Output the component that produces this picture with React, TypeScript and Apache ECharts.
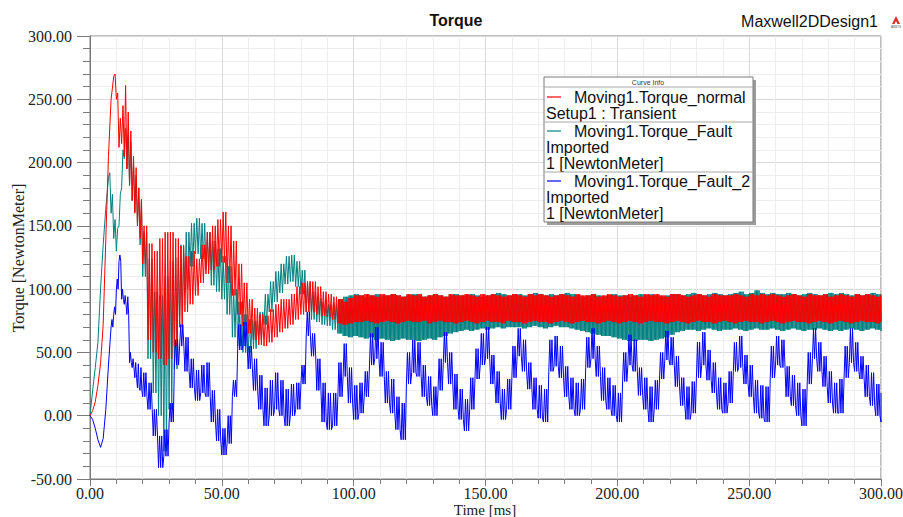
import React, { useEffect, useRef } from "react";
import * as echarts from "echarts";

// Sampling instants (ms): 1 ms steps up to 20 ms, then 2 ms steps to 300 ms
const TIME_MS: number[] = [];
for (let t = 0; t <= 20; t++) TIME_MS.push(t);
for (let t = 22; t <= 300; t += 2) TIME_MS.push(t);

const X_TICKS = [0, 50, 100, 150, 200, 250, 300];
const Y_TICKS = [-50, 0, 50, 100, 150, 200, 250, 300];

// Lower / upper envelope of each trace in every sampling window (NewtonMeter)
const RED_LO = [
  0, 4, 11, 24, 41, 72, 140, 205, 250, 268, 250, 212, 215, 205, 195, 182, 170, 160, 150, 140, 120,
  60, 50, 45, 40, 45, 55, 70, 82, 88, 95,
  105, 112, 115, 118, 121, 105, 95, 80, 71, 65,
  60, 56, 55, 58, 62, 66, 69, 72, 76, 80,
  82, 82, 80, 79, 78, 76, 73, 72, 73, 74,
  74, 75, 74, 73, 74, 75, 74, 73, 74, 75,
  74, 74, 75, 73, 74, 75, 74, 74, 73, 74,
  75, 74, 73, 74, 75, 74, 74, 73, 75, 74,
  74, 73, 74, 75, 74, 74, 73, 74, 75, 74,
  73, 74, 75, 74, 74, 73, 74, 75, 74, 73,
  74, 75, 74, 73, 74, 75, 74, 74, 73, 74,
  75, 74, 73, 74, 75, 74, 74, 73, 74, 75,
  74, 73, 74, 75, 74, 74, 73, 74, 75, 74,
  73, 74, 75, 74, 74, 73, 74, 75, 74, 73,
  74, 75, 74, 73, 74, 75, 74, 74, 73, 74,
];
const RED_HI = [
  0, 4, 11, 24, 41, 72, 140, 205, 250, 270, 255, 235, 245, 261, 240, 225, 205, 196, 180, 171, 150,
  136, 130, 140, 145, 145, 140, 134, 126, 130, 124,
  135, 145, 150, 155, 161, 150, 138, 120, 105, 92,
  85, 80, 79, 84, 88, 92, 92, 96, 102, 105,
  106, 106, 102, 98, 96, 94, 92, 90, 93, 95,
  95, 96, 95, 94, 96, 95, 96, 95, 94, 96,
  95, 96, 94, 95, 96, 95, 94, 96, 95, 95,
  96, 95, 94, 96, 95, 96, 95, 94, 95, 96,
  95, 94, 96, 95, 96, 95, 94, 95, 96, 95,
  94, 96, 95, 95, 96, 94, 95, 96, 95, 94,
  95, 96, 95, 94, 96, 95, 96, 95, 94, 96,
  96, 95, 94, 95, 96, 95, 94, 96, 95, 95,
  95, 96, 95, 94, 96, 95, 96, 95, 96, 95,
  94, 95, 96, 95, 94, 96, 95, 95, 96, 94,
  95, 96, 95, 94, 96, 95, 96, 95, 94, 96,
];

const TEAL_LO = [
  0, 20, 38, 58, 100, 135, 164, 188, 160, 140, 130, 150, 180, 203, 195, 182, 170, 161, 150, 135, 110,
  45, 18, 0, -28, 5, 37, 70, 100, 118, 128,
  124, 115, 103, 98, 92, 80, 62, 55, 50, 50,
  53, 60, 72, 82, 90, 97, 104, 106, 102, 96,
  82, 76, 74, 72, 71, 68, 65, 63, 62, 63,
  62, 61, 62, 60, 61, 60, 59, 60, 61, 60,
  60, 59, 60, 61, 60, 62, 63, 65, 66, 67,
  68, 67, 68, 69, 68, 69, 70, 69, 70, 70,
  70, 69, 70, 71, 70, 69, 70, 71, 70, 70,
  69, 68, 67, 66, 65, 64, 63, 63, 62, 61,
  60, 59, 59, 60, 60, 59, 60, 61, 62, 64,
  66, 67, 68, 68, 67, 68, 69, 68, 67, 68,
  68, 69, 68, 67, 68, 69, 68, 68, 69, 68,
  67, 68, 69, 68, 67, 68, 68, 69, 68, 67,
  68, 67, 68, 69, 68, 67, 68, 69, 68, 67,
];
const TEAL_HI = [
  0, 20, 38, 58, 100, 135, 164, 192, 175, 155, 148, 175, 210, 227, 222, 216, 200, 190, 180, 169, 145,
  124, 98, 95, 110, 122, 125, 135, 145, 152, 156,
  152, 145, 138, 132, 126, 118, 100, 90, 80, 76,
  75, 82, 96, 106, 114, 120, 126, 127, 122, 115,
  106, 98, 93, 90, 88, 88, 92, 94, 95, 96,
  95, 94, 95, 96, 94, 95, 96, 95, 94, 95,
  96, 95, 94, 95, 96, 95, 94, 95, 96, 95,
  95, 96, 95, 94, 95, 96, 97, 96, 95, 96,
  96, 95, 96, 97, 96, 95, 96, 95, 96, 97,
  96, 95, 94, 95, 96, 95, 94, 95, 96, 95,
  95, 94, 95, 96, 95, 96, 95, 94, 95, 96,
  96, 95, 96, 97, 96, 95, 96, 97, 96, 95,
  96, 97, 98, 96, 97, 99, 97, 96, 97, 96,
  96, 97, 96, 95, 96, 97, 96, 95, 96, 97,
  96, 97, 96, 95, 96, 95, 96, 97, 96, 95,
];

const BLUE_LO = [
  0, -3, -10, -19, -25, -18, 5, 40, 70, 80, 100, 122, 92, 88, 80, 42, 38, 30, 22, 20, 15,
  5, -16, -41, -32, -5, 40, 55, 35, 22, 12,
  18, 15, -5, -20, -31, -22, 15, 52, 55, 37,
  20, 5, -8, 0, 5, 0, -8, 0, 5, 25,
  63, 47, 20, -5, -11, -8, 15, 31, 10, -3,
  2, 15, 40, 45, 31, 10, 2, -11, -19, 25,
  34, 31, 15, 8, 0, 20, 42, 25, 5, -3,
  -12, 5, 29, 40, 45, 25, 10, -3, 5, 30,
  47, 35, 21, 5, -2, -5, 35, 39, 30, 15,
  5, 0, 5, 38, 45, 31, 12, 5, 0, -5,
  27, 40, 35, 16, 5, -5, 5, 29, 44, 40,
  23, 8, -3, 2, 30, 40, 28, 18, 5, 2,
  10, 35, 38, 25, 15, 2, -2, -5, 30, 40,
  38, 15, 8, 0, -8, 25, 45, 35, 23, 10,
  2, 2, 30, 42, 35, 29, 15, 8, 0, -5,
];
const BLUE_HI = [
  0, -3, -10, -19, -25, -18, 5, 40, 76, 86, 108, 127, 100, 95, 94, 50, 45, 42, 41, 38, 34,
  26, 5, -16, -11, 10, 60, 72, 62, 45, 36,
  40, 42, 20, 5, -10, 0, 28, 72, 74, 55,
  45, 32, 22, 28, 34, 28, 21, 25, 26, 40,
  82, 65, 45, 26, 18, 18, 42, 57, 38, 24,
  26, 35, 65, 70, 58, 35, 29, 15, 10, 50,
  60, 58, 40, 31, 23, 45, 66, 50, 33, 21,
  13, 30, 53, 65, 70, 48, 35, 21, 29, 55,
  69, 60, 42, 30, 24, 21, 60, 63, 55, 39,
  30, 26, 29, 62, 69, 55, 38, 30, 24, 18,
  50, 64, 60, 38, 30, 23, 28, 50, 67, 62,
  47, 30, 23, 27, 58, 66, 52, 42, 30, 26,
  35, 58, 63, 48, 40, 28, 24, 23, 55, 63,
  60, 39, 32, 26, 21, 50, 69, 58, 47, 35,
  26, 29, 55, 69, 58, 47, 40, 34, 25, 18,
];

const SERIES_NAMES = ["Moving1.Torque_normal", "Moving1.Torque_Fault", "Moving1.Torque_Fault_2"];
const X_NAME = "Time [ms]";
const Y_NAME = "Torque [NewtonMeter]";
const RED = "#ff0000";
const TEAL = "#008080";
const BLUE = "#0000ff";

// Trace swings between the envelope values read for each window.
// swing(t) gives the spacing (ms) between consecutive swing points.
function buildTrace(lo: number[], hi: number[], swing: (t: number) => number): number[][] {
  const pts: number[][] = [];
  const n = TIME_MS.length;
  for (let i = 0; i < n; i++) {
    const t0 = TIME_MS[i];
    if (lo[i] === hi[i] || i === n - 1) {
      pts.push([t0, lo[i]]);
      if (i === n - 1 && lo[i] !== hi[i]) pts.push([t0, hi[i]]);
      continue;
    }
    const dt = TIME_MS[i + 1] - t0;
    const k = Math.max(2, Math.round(dt / swing(t0)));
    for (let j = 0; j < k; j++) {
      pts.push([t0 + (j * dt) / k, j % 2 === 0 ? lo[i] : hi[i]]);
    }
  }
  return pts;
}

const SERIF = '"Liberation Serif", "Times New Roman", serif';
const SANS = '"Liberation Sans", Arial, sans-serif';
const AXIS_GRAY = "#7a7a7a";

export default function App() {
  const ref = useRef<HTMLDivElement>(null);
  useEffect(() => {
    if (!ref.current) return;
    const chart = echarts.init(ref.current, undefined, { renderer: "svg" });
    const fmt = (v: number) => v.toFixed(2);
    const legendText = (text: string, x: number, y: number) => ({
      type: "text",
      x,
      y,
      style: { text, font: `16px ${SANS}`, fill: "#111", align: "left", verticalAlign: "middle" },
      z: 20,
    });
    const legendLine = (color: string, y: number) => ({
      type: "line",
      shape: { x1: 547, y1: y, x2: 561, y2: y },
      style: { stroke: color, lineWidth: 1.2 },
      z: 20,
    });
    const sep = (y: number) => ({
      type: "line",
      shape: { x1: 544, y1: y, x2: 753, y2: y },
      style: { stroke: "#a8a8a8", lineWidth: 1 },
      z: 20,
    });
    const fastSwing = (t: number) => (t < 94 ? 0.5 : 0.25);
    const blueSwing = () => 0.4;

    chart.setOption({
      animation: false,
      backgroundColor: "#ffffff",
      grid: {
        left: 90,
        right: 22,
        top: 36,
        bottom: 38,
        containLabel: false,
        outerBoundsMode: "none",
        show: true,
        borderColor: AXIS_GRAY,
        borderWidth: 1,
        backgroundColor: "#ffffff",
      },
      xAxis: {
        type: "value",
        min: X_TICKS[0],
        max: X_TICKS[X_TICKS.length - 1],
        interval: X_TICKS[1] - X_TICKS[0],
        axisLine: { show: true, onZero: false, lineStyle: { color: AXIS_GRAY } },
        axisTick: { show: true, length: 7, lineStyle: { color: AXIS_GRAY } },
        minorTick: { show: true, splitNumber: 5, length: 5, lineStyle: { color: AXIS_GRAY } },
        axisLabel: {
          formatter: fmt,
          fontFamily: SERIF,
          fontSize: 16,
          color: "#222",
          margin: 6,
          showMaxLabel: true,
          showMinLabel: true,
        },
        splitLine: { show: true, lineStyle: { color: "#d9d9d9" } },
        minorSplitLine: { show: true, lineStyle: { color: "#eeeeee" } },
      },
      yAxis: {
        type: "value",
        min: Y_TICKS[0],
        max: Y_TICKS[Y_TICKS.length - 1],
        interval: Y_TICKS[1] - Y_TICKS[0],
        axisLine: { show: true, onZero: false, lineStyle: { color: AXIS_GRAY } },
        axisTick: { show: true, length: 13, lineStyle: { color: AXIS_GRAY } },
        minorTick: { show: true, splitNumber: 5, length: 7, lineStyle: { color: AXIS_GRAY } },
        axisLabel: {
          formatter: fmt,
          fontFamily: SERIF,
          fontSize: 16,
          color: "#222",
          margin: 18,
          showMaxLabel: true,
          showMinLabel: true,
        },
        splitLine: { show: true, lineStyle: { color: "#d9d9d9" } },
        minorSplitLine: { show: true, lineStyle: { color: "#eeeeee" } },
      },
      series: [
        {
          name: SERIES_NAMES[1],
          type: "line",
          data: buildTrace(TEAL_LO, TEAL_HI, fastSwing),
          showSymbol: false,
          symbol: "none",
          lineStyle: { color: TEAL, width: 1 },
          z: 2,
        },
        {
          name: SERIES_NAMES[0],
          type: "line",
          data: buildTrace(RED_LO, RED_HI, fastSwing),
          showSymbol: false,
          symbol: "none",
          lineStyle: { color: RED, width: 1 },
          z: 3,
        },
        {
          name: SERIES_NAMES[2],
          type: "line",
          data: buildTrace(BLUE_LO, BLUE_HI, blueSwing),
          showSymbol: false,
          symbol: "none",
          lineStyle: { color: BLUE, width: 1 },
          z: 4,
        },
      ],
      graphic: [
        {
          type: "text",
          x: 485,
          y: 509.5,
          style: { text: X_NAME, font: `15px ${SERIF}`, fill: "#222", align: "center", verticalAlign: "middle" },
        },
        {
          type: "text",
          x: 18,
          y: 258,
          rotation: Math.PI / 2,
          style: { text: Y_NAME, font: `16px ${SERIF}`, fill: "#222", align: "center", verticalAlign: "middle" },
        },
        {
          type: "text",
          x: 456,
          y: 20,
          style: { text: "Torque", font: `bold 16px ${SANS}`, fill: "#111", align: "center", verticalAlign: "middle" },
        },
        {
          type: "text",
          x: 878,
          y: 21,
          style: { text: "Maxwell2DDesign1", font: `16px ${SANS}`, fill: "#111", align: "right", verticalAlign: "middle" },
        },
        {
          type: "polygon",
          shape: { points: [[892, 24], [896, 16], [900, 24]] },
          style: { fill: "#d8302a" },
        },
        {
          type: "polygon",
          shape: { points: [[894.5, 24], [896, 21], [897.5, 24]] },
          style: { fill: "#ffffff" },
        },
        {
          type: "text",
          x: 896,
          y: 27,
          style: { text: "ANSYS", font: `3px ${SANS}`, fill: "#444", align: "center", verticalAlign: "middle" },
        },
        // Curve info box
        {
          type: "rect",
          shape: { x: 547, y: 80, width: 209, height: 145 },
          style: { fill: "#9c9c9c" },
          z: 18,
        },
        {
          type: "rect",
          shape: { x: 544, y: 77, width: 209, height: 145 },
          style: { fill: "#ffffff", stroke: AXIS_GRAY, lineWidth: 1 },
          z: 19,
        },
        {
          type: "text",
          x: 648,
          y: 82,
          style: { text: "Curve Info", font: `7px ${SANS}`, fill: "#333", align: "center", verticalAlign: "middle" },
          z: 20,
        },
        sep(87),
        legendLine(RED, 97),
        legendText(SERIES_NAMES[0], 574, 97.5),
        legendText("Setup1 : Transient", 546, 113),
        sep(122),
        legendLine(TEAL, 131),
        legendText(SERIES_NAMES[1], 574, 131.5),
        legendText("Imported", 546, 147.5),
        legendText("1 [NewtonMeter]", 546, 163),
        sep(172),
        legendLine(BLUE, 181),
        legendText(SERIES_NAMES[2], 574, 181.5),
        legendText("Imported", 546, 197.5),
        legendText("1 [NewtonMeter]", 546, 213),
      ],
    });
    return () => chart.dispose();
  }, []);
  return (
    <div
      ref={ref}
      style={{ position: "fixed", left: 0, top: 0, width: 903, height: 517, background: "#fff" }}
    />
  );
}
